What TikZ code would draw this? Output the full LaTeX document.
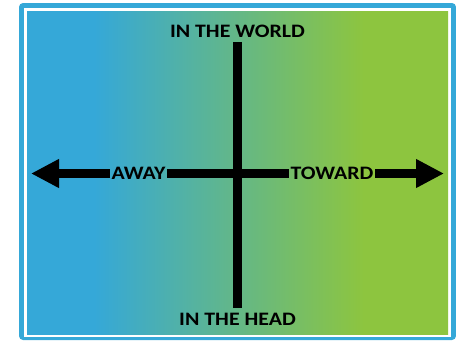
\documentclass[tikz,border=0pt]{standalone}
\usepackage{fontspec}
\newfontfamily\lblfont[FakeStretch=1.15]{Carlito}
\usetikzlibrary{positioning,arrows.meta}

\definecolor{frameblue}{HTML}{35A8D8}
\definecolor{leafgreen}{HTML}{8DC53F}
\pgfdeclarehorizontalshading{bluegreen}{100bp}{color(0bp)=(frameblue); color(33bp)=(frameblue); color(65bp)=(leafgreen); color(100bp)=(leafgreen)}

\begin{document}
\begin{tikzpicture}[x=1pt, y=-1pt, >={Triangle[length=28pt, width=27pt]},
  axis/.style={line width=8.5pt, draw=black},
  lbl/.style={font=\lblfont\bfseries\fontsize{19}{19}\selectfont, inner xsep=1.5pt, inner ysep=4.5pt}]

\useasboundingbox (0,0) rectangle (456,341);

% frame
\fill[frameblue, rounded corners=4pt] (19,3) rectangle (456,340);
\fill[white] (24,8) rectangle (451,337);
\shade[shading=bluegreen] (27,11) rectangle (448,334);

% labels
\node[lbl] (world) at (237.5,31) {IN THE WORLD};
\node[lbl] (head) at (237.5,319) {IN THE HEAD};
\node[lbl] (away) at (138.5,173.5) {AWAY};
\node[lbl] (toward) at (332,173.5) {TOWARD};
\coordinate (lend) at (31,173.5);
\coordinate (rend) at (444,173.5);

% axes
\draw[axis] (world) -- (head);
\draw[axis, ->] (away) -- (lend);
\draw[axis] (away) -- (toward);
\draw[axis, ->] (toward) -- (rend);
\end{tikzpicture}
\end{document}
